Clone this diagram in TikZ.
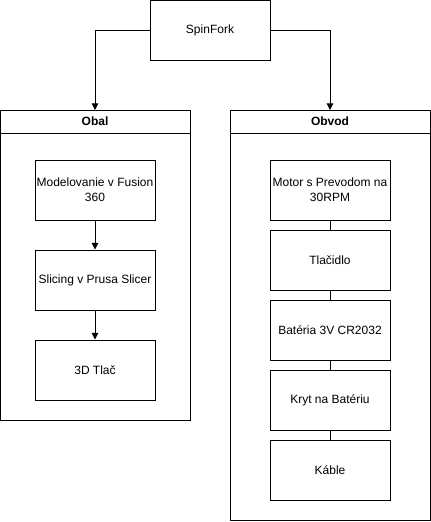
\documentclass[tikz,border=0pt]{standalone}
\usepackage{fontspec}
\setmainfont{Liberation Sans}
\usetikzlibrary{arrows.meta}
\tikzset{
  box/.style={draw=black,minimum width=90pt,minimum height=45pt,align=center,inner sep=0pt},
  lane/.style={draw=black,anchor=north,minimum width=#1,inner sep=0pt},
  arr/.style={-{Triangle[length=5pt,width=5pt]}},
}
\begin{document}
\begin{tikzpicture}[x=0.75pt,y=-0.75pt,line width=0.75pt,font=\fontsize{9}{11}\selectfont]
\useasboundingbox (0,0) rectangle (431,522);
\node[box](spin)at(210,30){SpinFork};
% lanes
\node[lane=142.5pt,minimum height=232.5pt](obal)at(95,110){};
\node[lane=150pt,minimum height=307.5pt](obvod)at(330,110){};
\draw([yshift=-17.25pt]obal.north west)--([yshift=-17.25pt]obal.north east);
\draw([yshift=-17.25pt]obvod.north west)--([yshift=-17.25pt]obvod.north east);
\node[font=\fontsize{9}{11}\selectfont\bfseries](obalt)at(95,121.5){Obal};
\node[font=\fontsize{9}{11}\selectfont\bfseries](obvodt)at(330,121.5){Obvod};
\draw[arr](spin.west)-|(obal.north);
\draw[arr](spin.east)-|(obvod.north);
% obal
\node[box](model)at(95,190){Modelovanie v Fusion\\360};
\node[box](slice)at(95,280){Slicing v Prusa Slicer};
\node[box](tlac)at(95,370){3D Tla\v{c}};
\draw[arr](model)--(slice);
\draw[arr](slice)--(tlac);
% obvod
\node[box](motor)at(330,190){Motor s Prevodom na\\30RPM};
\node[box](tlacidlo)at(330,260){Tla\v{c}idlo};
\node[box](bat)at(330,330){Bat\'eria 3V CR2032};
\node[box](kryt)at(330,400){Kryt na Bat\'eriu};
\node[box](kable)at(330,470){K\'able};
\draw(motor)--(tlacidlo);
\draw(tlacidlo)--(bat);
\draw(bat)--(kryt);
\draw(kryt)--(kable);
\end{tikzpicture}
\end{document}
